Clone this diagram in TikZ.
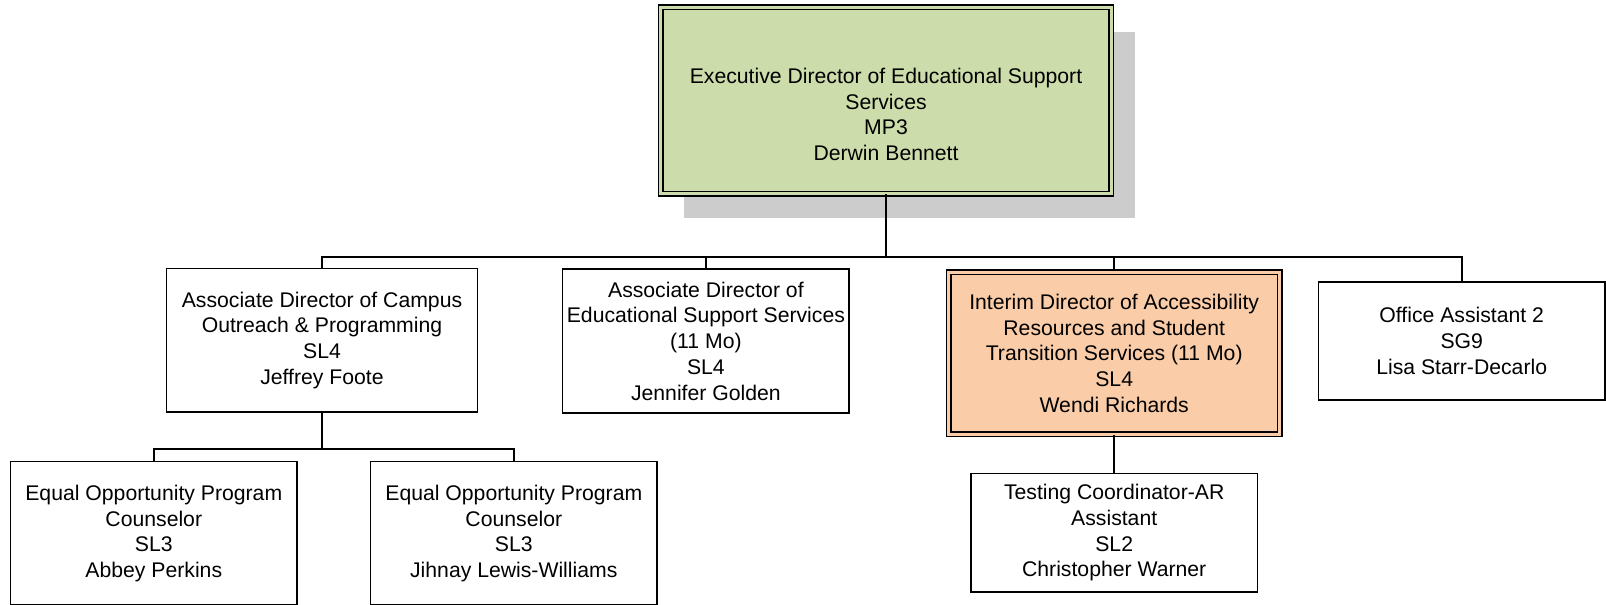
\documentclass[tikz,border=0pt]{standalone}
\usepackage{fontspec}
\setmainfont{Liberation Sans}
\usepackage{tikz}
\usetikzlibrary{positioning}
\usetikzlibrary{shadows}
\definecolor{headgreen}{RGB}{204,220,170}
\definecolor{interimorange}{RGB}{250,204,168}
\definecolor{shadowgray}{RGB}{204,204,204}
\tikzset{orgbox/.style={rectangle, draw=black, line width=1.2pt, fill=white, align=center, inner sep=0pt, minimum width=215pt, minimum height=107.6pt, font=\fontsize{15.9pt}{19.3pt}\selectfont}}
\tikzset{doublebox/.style={orgbox, line width=1.125pt, double distance=2.25pt}}
\tikzset{orgline/.style={draw=black, line width=1.2pt}}

\begin{document}
\begin{tikzpicture}[x=0.75pt, y=-0.75pt]
    \useasboundingbox (0,0) rectangle (1606,604);
    \clip (0,0) rectangle (1606,604);

    \node [draw, doublebox, fill=headgreen, double=headgreen, minimum width=338.1pt, minimum height=139.8pt,
        drop shadow={fill=shadowgray, opacity=1, shadow xshift=17.6pt, shadow yshift=-18.4pt}](exec) at (886,100.5){};
    \node [align=center, font=\fontsize{15.9pt}{19.3pt}\selectfont](exectext) at (886,114.3){Executive Director of Educational Support\\Services\\MP3\\Derwin Bennett};

    \node [draw, orgbox, minimum width=233.3pt](campus) at (322,340.3){Associate Director of Campus\\Outreach \& Programming\\SL4\\Jeffrey Foote};
    \node [draw, orgbox](assoc) at (705.9,341){Associate Director of\\Educational Support Services\\(11 Mo)\\SL4\\Jennifer Golden};
    \node [draw, doublebox, fill=interimorange, double=interimorange, minimum width=248.3pt, minimum height=121.7pt](access) at (1114.2,353.2){Interim Director of Accessibility\\Resources and Student\\Transition Services (11 Mo)\\SL4\\Wendi Richards};
    \node [draw, orgbox, minimum height=88.8pt](office) at (1461.7,341){Office Assistant 2\\SG9\\Lisa Starr-Decarlo};

    \node [draw, orgbox](eopa) at (153.8,533.4){Equal Opportunity Program\\Counselor\\SL3\\Abbey Perkins};
    \node [draw, orgbox](eopb) at (513.8,533.4){Equal Opportunity Program\\Counselor\\SL3\\Jihnay Lewis-Williams};
    \node [draw, orgbox, minimum height=88.8pt](testing) at (1114.2,532.7){Testing Coordinator-AR\\Assistant\\SL2\\Christopher Warner};

    \coordinate (bus) at (886,256.7);
    \coordinate (subbus) at (322,449);

    \draw[orgline] (exec.south) -- (bus);
    \draw[orgline] (campus.north) |- (bus) -| (office.north);
    \draw[orgline] (assoc.north) -- (assoc.north |- bus);
    \draw[orgline] (access.north) -- (access.north |- bus);
    \draw[orgline] (campus.south) -- (subbus);
    \draw[orgline] (eopa.north) |- (subbus) -| (eopb.north);
    \draw[orgline] (access.south) -- (testing.north);
\end{tikzpicture}
\end{document}
